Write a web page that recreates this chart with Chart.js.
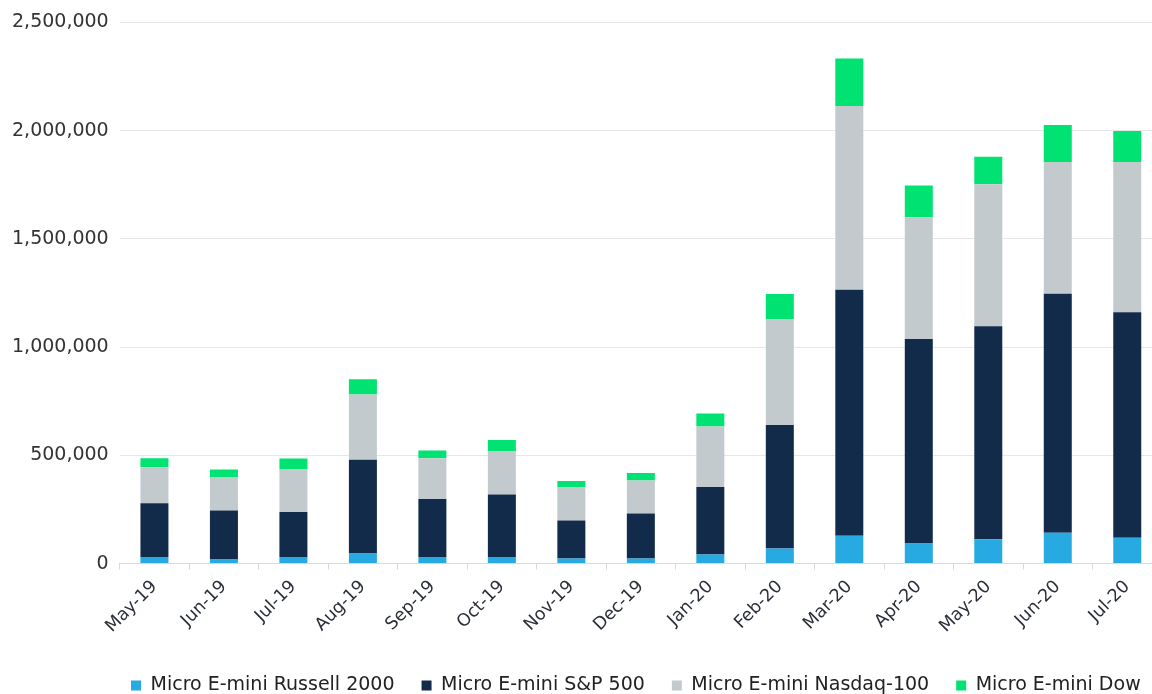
<!DOCTYPE html>
<html>
<head>
<meta charset="utf-8">
<script src="https://cdn.jsdelivr.net/npm/chart.js@4"></script>
<style>
  html, body { margin: 0; padding: 0; background: #ffffff; overflow: hidden; }
  #wrap { width: 1152px; height: 694px; position: relative; overflow: hidden; }
  #inner { width: 1162px; height: 694px; position: absolute; left: 0; top: 0; }
</style>
</head>
<body>
<div id="wrap"><div id="inner"><canvas id="c"></canvas></div></div>
<script>
const categories = ["May-19","Jun-19","Jul-19","Aug-19","Sep-19","Oct-19","Nov-19","Dec-19","Jan-20","Feb-20","Mar-20","Apr-20","May-20","Jun-20","Jul-20"];
const russell2000 = [30000, 19000, 30000, 47000, 30000, 30000, 23000, 23000, 42000, 70000, 128000, 93000, 112000, 142000, 119000];
const sp500       = [249000, 226000, 208000, 433000, 268000, 289000, 176000, 208000, 312000, 570000, 1137000, 944000, 984000, 1105000, 1042000];
const nasdaq100   = [166000, 153000, 197000, 301000, 189000, 201000, 155000, 153000, 279000, 489000, 849000, 563000, 656000, 608000, 694000];
const dow         = [41000, 37000, 50000, 71000, 35000, 51000, 28000, 34000, 60000, 116000, 219000, 147000, 127000, 171000, 143000];
const seriesNames = ["Micro E-mini Russell 2000", "Micro E-mini S&P 500", "Micro E-mini Nasdaq-100", "Micro E-mini Dow"];
const yTicks = [0, 500000, 1000000, 1500000, 2000000, 2500000];

const colors = ["#27A9E1", "#132B4A", "#C3CACD", "#00E272"];
const seriesData = [russell2000, sp500, nasdaq100, dow];
const FONT = "'DejaVu Sans', sans-serif";
const VISIBLE_WIDTH = 1152;

// legend: tighter vertical footprint, centred under the visible plot area
const legendShift = {
  id: 'legendShift',
  beforeInit(chart) {
    const lg = chart.legend;
    if (!lg) return;
    const origFit = lg.fit;
    lg.fit = function () {
      origFit.call(this);
      this.height -= 11;
    };
  },
  afterLayout(chart) {
    const lg = chart.legend, ca = chart.chartArea;
    if (!lg || !ca) return;
    const target = (ca.left + Math.min(ca.right, VISIBLE_WIDTH)) / 2;
    const shift = target - (lg.left + lg.right) / 2;
    lg.left += shift;
    lg.right += shift;
  }
};

new Chart(document.getElementById('c'), {
  type: 'bar',
  data: {
    labels: categories,
    datasets: seriesData.map((d, i) => ({
      label: seriesNames[i],
      data: d,
      backgroundColor: colors[i],
      borderWidth: 0,
      barPercentage: 0.403,
      categoryPercentage: 1.0
    }))
  },
  plugins: [legendShift],
  options: {
    responsive: true,
    maintainAspectRatio: false,
    animation: false,
    devicePixelRatio: 1,
    layout: { autoPadding: false, padding: { top: 12, right: 0, left: 1, bottom: 0 } },
    plugins: {
      tooltip: { enabled: false },
      legend: {
        position: 'bottom',
        labels: {
          boxWidth: 10,
          boxHeight: 10,
          padding: 27,
          color: '#222',
          font: { family: FONT, size: 19 }
        }
      }
    },
    scales: {
      x: {
        stacked: true,
        afterFit: (scale) => { scale.height += 5; },
        grid: { display: true, drawOnChartArea: false, drawTicks: true, tickLength: 6, color: '#d9d9d9', offset: true },
        border: { display: true, color: '#d9d9d9' },
        ticks: {
          color: '#2a2f3a',
          font: { family: FONT, size: 17.5 },
          minRotation: 45, maxRotation: 45,
          padding: 7
        }
      },
      y: {
        stacked: true,
        min: 0,
        max: 2500000,
        afterBuildTicks: (axis) => { axis.ticks = yTicks.map(v => ({ value: v })); },
        grid: { color: '#e6e6e6', drawTicks: false },
        border: { display: false },
        ticks: {
          color: '#333',
          padding: 11,
          font: { family: FONT, size: 19 },
          callback: (v) => v.toLocaleString('en-US')
        }
      }
    }
  }
});
</script>
</body>
</html>
